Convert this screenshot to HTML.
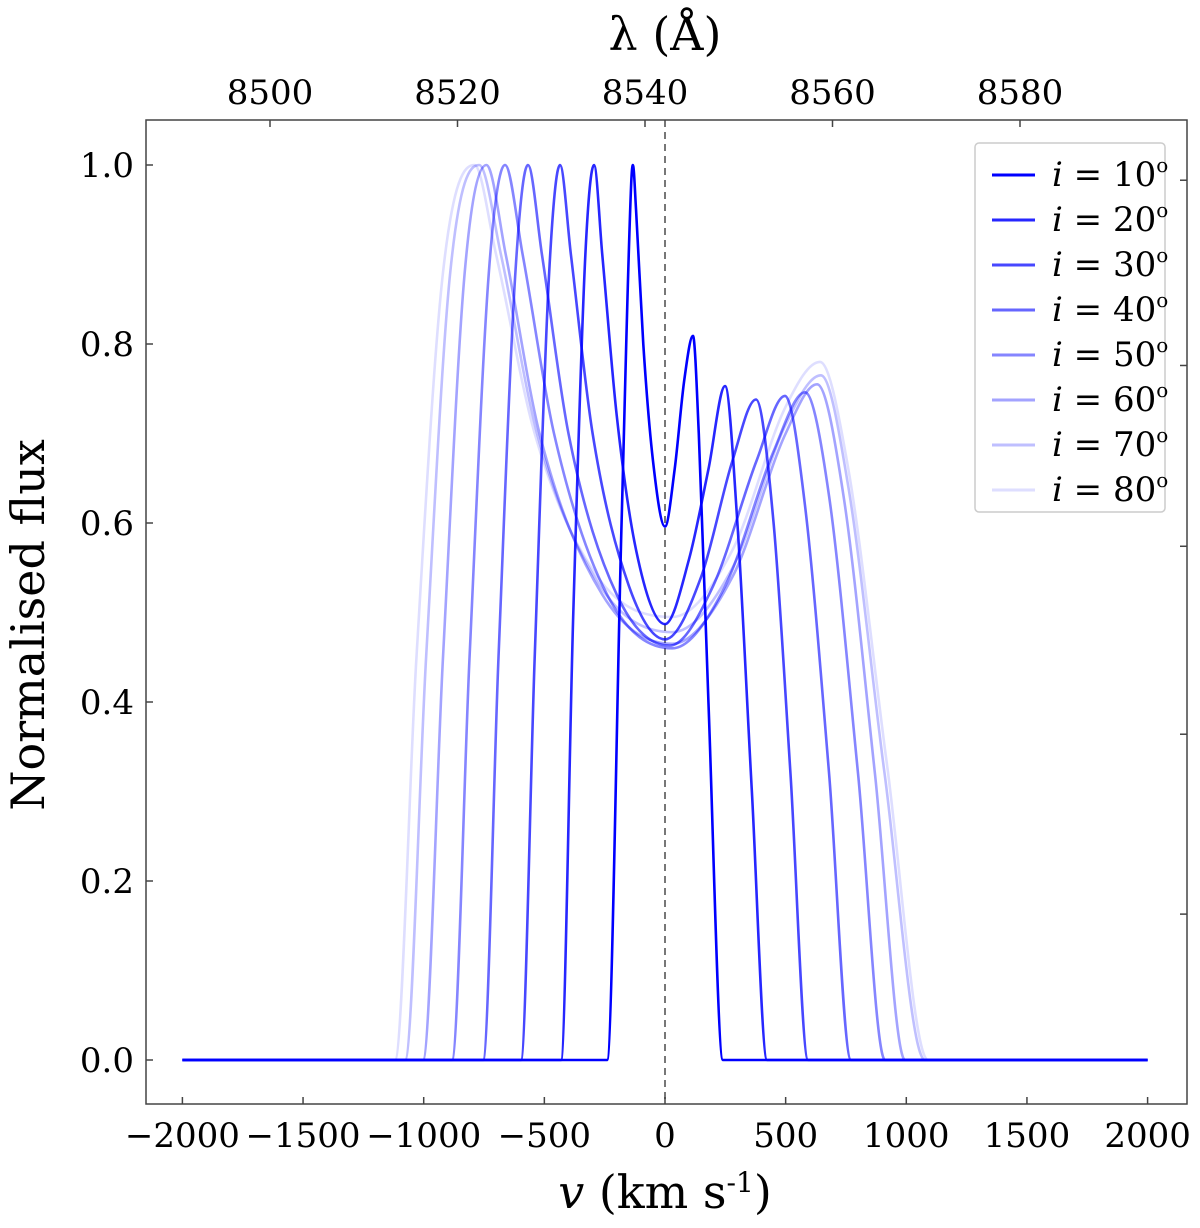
<!DOCTYPE html>
<html><head><meta charset="utf-8"><style>
html,body{margin:0;padding:0;background:#fff;}
svg text{font-family:"DejaVu Serif","Liberation Serif",serif;}
</style></head><body>
<svg width="1200" height="1223" viewBox="0 0 1200 1223" xmlns="http://www.w3.org/2000/svg">
<g id="plot"></g>
</svg>
<script>
const xTicks=[-2000,-1500,-1000,-500,0,500,1000,1500,2000];
const yTicks=[0,0.2,0.4,0.6,0.8,1.0];
const topTicks=[8500,8520,8540,8560,8580];
const rightTicks=[0.983,0.776,0.574,0.364,0.163];
const labels=["10","20","30","40","50","60","70","80"];
const alphas=[1,0.85,0.72,0.6,0.48,0.36,0.25,0.13];
const s10=[[-2000,0],[-240,0],[-180,0.6],[-140,0.98],[-133,1.0],[-120,0.95],[-90,0.8],[-50,0.67],[0,0.596],[40,0.66],[80,0.76],[116,0.809],[140,0.7],[180,0.4],[240,0],[2000,0]];
const s20=[[-2000,0],[-431,0],[-380,0.5],[-330,0.9],[-294,1.0],[-260,0.9],[-200,0.72],[-120,0.57],[0,0.487],[100,0.56],[180,0.66],[249,0.753],[300,0.6],[360,0.3],[423,0],[2000,0]];
const s30=[[-2000,0],[-597,0],[-540,0.45],[-480,0.88],[-435,1.0],[-390,0.9],[-300,0.7],[-150,0.53],[0,0.47],[150,0.54],[280,0.67],[377,0.738],[450,0.6],[520,0.32],[593,0],[2000,0]];
const s40=[[-2000,0],[-754,0],[-690,0.45],[-620,0.88],[-568,1.0],[-510,0.9],[-400,0.7],[-200,0.52],[20,0.463],[200,0.53],[380,0.67],[497,0.742],[580,0.62],[680,0.32],[771,0],[2000,0]];
const s50=[[-2000,0],[-883,0],[-810,0.45],[-730,0.88],[-663,1.0],[-590,0.9],[-460,0.7],[-240,0.52],[30,0.46],[250,0.53],[450,0.68],[580,0.746],[680,0.63],[800,0.32],[912,0],[2000,0]];
const s60=[[-2000,0],[-1003,0],[-920,0.45],[-830,0.88],[-740,1.0],[-660,0.9],[-520,0.7],[-260,0.52],[30,0.465],[280,0.54],[500,0.7],[630,0.755],[740,0.63],[870,0.32],[995,0],[2000,0]];
const s70=[[-2000,0],[-1077,0],[-990,0.45],[-890,0.88],[-770,1.0],[-680,0.9],[-530,0.7],[-270,0.53],[30,0.478],[280,0.55],[500,0.71],[646,0.765],[760,0.64],[910,0.32],[1077,0],[2000,0]];
const s80=[[-2000,0],[-1119,0],[-1030,0.45],[-920,0.88],[-790,1.0],[-700,0.9],[-540,0.7],[-280,0.54],[30,0.495],[280,0.57],[500,0.73],[642,0.78],[760,0.66],[920,0.33],[1090,0],[2000,0]];
const series=[s10,s20,s30,s40,s50,s60,s70,s80];

const L=146,R=1187,T=120,B=1104;
const X=v=>665+v*0.2413;
const Y=f=>1060-f*895;
const XW=l=>645+(l-8540)*9.375;
const NS="http://www.w3.org/2000/svg";
const g=document.getElementById('plot');
function mk(tag,attrs,parent){const e=document.createElementNS(NS,tag);for(const k in attrs)e.setAttribute(k,attrs[k]);(parent||g).appendChild(e);return e;}

function monotone(pts){
  const n=pts.length,xs=pts.map(p=>X(p[0])),ys=pts.map(p=>Y(p[1]));
  const d=[],m=[];
  for(let i=0;i<n-1;i++)d.push((ys[i+1]-ys[i])/(xs[i+1]-xs[i]));
  m[0]=d[0];m[n-1]=d[n-2];
  for(let i=1;i<n-1;i++){m[i]=(d[i-1]*d[i]<=0)?0:(d[i-1]+d[i])/2;}
  for(let i=0;i<n-1;i++){if(d[i]===0){m[i]=0;m[i+1]=0;continue;}
    const a=m[i]/d[i],b=m[i+1]/d[i],s=a*a+b*b;if(s>9){const t=3/Math.sqrt(s);m[i]=t*a*d[i];m[i+1]=t*b*d[i];}}
  let p=`M${xs[0]},${ys[0]}`;
  for(let i=0;i<n-1;i++){const h=(xs[i+1]-xs[i])/3;
    p+=` C${xs[i]+h},${ys[i]+m[i]*h} ${xs[i+1]-h},${ys[i+1]-m[i+1]*h} ${xs[i+1]},${ys[i+1]}`;}
  return p;
}

let dl=mk('line',{x1:X(0),x2:X(0),y1:T,y2:B,stroke:'#777','stroke-width':2,'stroke-dasharray':'7,5'});



for(let k=series.length-1;k>=0;k--){
  const p=mk('path',{d:monotone(series[k]),fill:'none',stroke:'rgb(0,0,255)','stroke-opacity':alphas[k],'stroke-width':2.6,'stroke-linejoin':'round'});
  
  
}

let fr=mk('rect',{x:L,y:T,width:R-L,height:B-T,fill:'none',stroke:'#444','stroke-width':1.5});



xTicks.forEach(v=>{
  const t=mk('line',{x1:X(v),x2:X(v),y1:B,y2:B-7,stroke:'#444','stroke-width':1.5});
  
  
  const tx=mk('text',{x:X(v),y:1147,'text-anchor':'middle','font-size':34,fill:'#000'});
  tx.textContent=v<0?'\u2212'+(-v):String(v);
  
  
});
yTicks.forEach(f=>{
  const t=mk('line',{x1:L,x2:L+7,y1:Y(f),y2:Y(f),stroke:'#444','stroke-width':1.5});
  
  
  const tx=mk('text',{x:134,y:Y(f)+12,'text-anchor':'end','font-size':34,fill:'#000'});
  tx.textContent=f.toFixed(1);
  
  
});
topTicks.forEach(l=>{
  const t=mk('line',{x1:XW(l),x2:XW(l),y1:T,y2:T+7,stroke:'#444','stroke-width':1.5});
  
  
  const tx=mk('text',{x:XW(l),y:104,'text-anchor':'middle','font-size':34,fill:'#000'});
  tx.textContent=String(l);
  
  
});
rightTicks.forEach(f=>{
  const t=mk('line',{x1:R,x2:R-7,y1:Y(f),y2:Y(f),stroke:'#444','stroke-width':1.5});
  
  
});

const lg=mk('g',{});


mk('rect',{x:975,y:143,width:190,height:369,rx:4,fill:'#fff','fill-opacity':0.85,stroke:'#ccc','stroke-width':1.5},lg);
labels.forEach((lab,k)=>{
  const y=175+k*45;
  const e=mk('g',{},lg);
  
  
  mk('line',{x1:992,x2:1035,y1:y,y2:y,stroke:'rgb(0,0,255)','stroke-opacity':alphas[k],'stroke-width':3},e);
  const t=mk('text',{x:1052,y:y+11,'font-size':34,fill:'#000','font-family':'Liberation Serif, serif'},e);
  t.innerHTML='<tspan font-style="italic">i</tspan> = '+lab+'<tspan font-size="20" dy="-14">o</tspan>';
});
</script>
<svg style="position:absolute;left:0;top:0" width="1200" height="1223" xmlns="http://www.w3.org/2000/svg">
<text x="665" y="50" text-anchor="middle" font-size="46" font-family="Liberation Serif, serif">λ (Å)</text>
<text x="665" y="1208" text-anchor="middle" font-size="46" font-family="Liberation Serif, serif"><tspan font-style="italic">v</tspan> (km s<tspan font-size="28" dy="-16">-1</tspan><tspan dy="16">)</tspan></text>
<text x="0" y="0" transform="translate(44,625) rotate(-90)" text-anchor="middle" font-size="46" font-family="Liberation Serif, serif">Normalised flux</text>
</svg>
</body></html>
